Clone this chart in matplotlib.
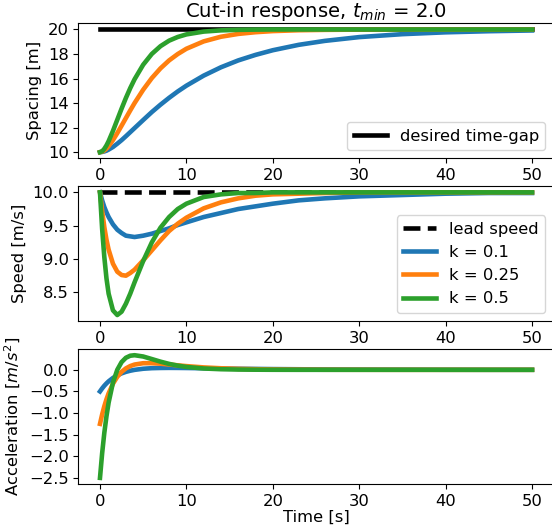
import matplotlib
matplotlib.use("Agg")
import matplotlib.pyplot as plt

# time samples [s]
time_s = [0, 0.25, 0.5, 0.75, 1, 1.5, 2, 2.5, 3, 3.5, 4, 5, 6, 7, 8, 9, 10,
          12, 14, 16, 18, 20, 23, 26, 30, 35, 40, 45, 50]

gains = ["0.1", "0.25", "0.5"]
colors = ["tab:blue", "tab:orange", "tab:green"]

desired_gap = 20.0
lead_speed = 10.0
t_min = 2.0

# spacing [m] per gain
spacing_k01 = [10.00, 10.02, 10.06, 10.12, 10.21, 10.42, 10.69, 10.98, 11.30, 11.63,
               11.96, 12.62, 13.27, 13.87, 14.43, 14.95, 15.42, 16.24, 16.92, 17.48,
               17.93, 18.31, 18.75, 19.07, 19.38, 19.62, 19.77, 19.86, 19.92]
spacing_k025 = [10.00, 10.04, 10.14, 10.29, 10.49, 10.98, 11.55, 12.16, 12.78, 13.40,
                14.00, 15.09, 16.04, 16.83, 17.48, 18.00, 18.43, 19.03, 19.41, 19.64,
                19.78, 19.87, 19.94, 19.97, 19.99, 20.00, 20.00, 20.00, 20.00]
spacing_k05 = [10.00, 10.07, 10.27, 10.55, 10.90, 11.73, 12.64, 13.55, 14.42, 15.22,
               15.94, 17.13, 18.01, 18.64, 19.09, 19.39, 19.60, 19.83, 19.93, 19.97,
               19.99, 20.00, 20.00, 20.00, 20.00, 20.00, 20.00, 20.00, 20.00]

# speed [m/s] per gain
speed_k01 = [10.00, 9.88, 9.78, 9.70, 9.63, 9.52, 9.44, 9.39, 9.35, 9.34,
             9.33, 9.35, 9.38, 9.42, 9.46, 9.51, 9.55, 9.63, 9.69, 9.75,
             9.79, 9.83, 9.88, 9.91, 9.94, 9.96, 9.98, 9.99, 9.99]
speed_k025 = [10.00, 9.72, 9.48, 9.29, 9.14, 8.93, 8.81, 8.76, 8.75, 8.79,
              8.84, 8.98, 9.13, 9.28, 9.42, 9.53, 9.62, 9.76, 9.85, 9.91,
              9.95, 9.97, 9.98, 9.99, 10.00, 10.00, 10.00, 10.00, 10.00]
speed_k05 = [10.00, 9.45, 9.03, 8.71, 8.48, 8.23, 8.16, 8.21, 8.33, 8.48,
             8.65, 8.97, 9.25, 9.47, 9.63, 9.75, 9.83, 9.93, 9.97, 9.99,
             9.99, 10.00, 10.00, 10.00, 10.00, 10.00, 10.00, 10.00, 10.00]

# acceleration [m/s^2] per gain
accel_k01 = [-0.500, -0.430, -0.368, -0.314, -0.266, -0.188, -0.128, -0.082, -0.047, -0.021,
             -0.001, 0.025, 0.038, 0.043, 0.045, 0.044, 0.042, 0.036, 0.030, 0.025,
             0.021, 0.017, 0.013, 0.009, 0.006, 0.004, 0.002, 0.001, 0.001]
accel_k025 = [-1.250, -1.032, -0.844, -0.682, -0.543, -0.322, -0.162, -0.047, 0.033, 0.087,
              0.122, 0.153, 0.154, 0.142, 0.123, 0.104, 0.086, 0.056, 0.036, 0.022,
              0.014, 0.008, 0.004, 0.002, 0.001, 0.000, 0.000, 0.000, 0.000]
accel_k05 = [-2.500, -1.930, -1.460, -1.074, -0.758, -0.295, 0.000, 0.179, 0.279, 0.326,
             0.338, 0.308, 0.249, 0.189, 0.137, 0.097, 0.067, 0.031, 0.014, 0.006,
             0.003, 0.001, 0.000, 0.000, 0.000, 0.000, 0.000, 0.000, 0.000]

spacing = [spacing_k01, spacing_k025, spacing_k05]
speed = [speed_k01, speed_k025, speed_k05]
accel = [accel_k01, accel_k025, accel_k05]

plt.rcParams["font.size"] = 11.8
lw = 3.3

fig, (ax1, ax2, ax3) = plt.subplots(3, 1, figsize=(5.52, 5.31), dpi=100)
fig.subplots_adjust(left=0.142, right=1.003, top=0.956, bottom=0.0885, hspace=0.207)

t_end = [time_s[0], time_s[-1]]

# spacing
ax1.plot(t_end, [desired_gap, desired_gap], color="black", linewidth=lw, label="desired time-gap")
for s, c in zip(spacing, colors):
    ax1.plot(time_s, s, color=c, linewidth=lw)
ax1.set_ylabel("Spacing [m]")
ax1.set_title(r"Cut-in response, $t_{min}$ = " + str(t_min), pad=4)
ax1.set_yticks([10, 12, 14, 16, 18, 20])
ax1.legend(loc="lower right")

# speed
ax2.plot(t_end, [lead_speed, lead_speed], color="black", linestyle="--", linewidth=lw, label="lead speed")
for v, c, k in zip(speed, colors, gains):
    ax2.plot(time_s, v, color=c, linewidth=lw, label="k = " + k)
ax2.set_ylabel("Speed [m/s]")
ax2.set_yticks([8.5, 9.0, 9.5, 10.0])
ax2.legend(loc="lower right")

# acceleration
for a, c in zip(accel, colors):
    ax3.plot(time_s, a, color=c, linewidth=lw)
ax3.set_ylabel(r"Acceleration [$m/s^2$]")
ax3.set_xlabel("Time [s]", labelpad=1)
ax3.set_yticks([-2.5, -2.0, -1.5, -1.0, -0.5, 0.0])

for ax in (ax1, ax2, ax3):
    ax.set_xticks([0, 10, 20, 30, 40, 50])

fig.savefig("out.png", dpi=100)
